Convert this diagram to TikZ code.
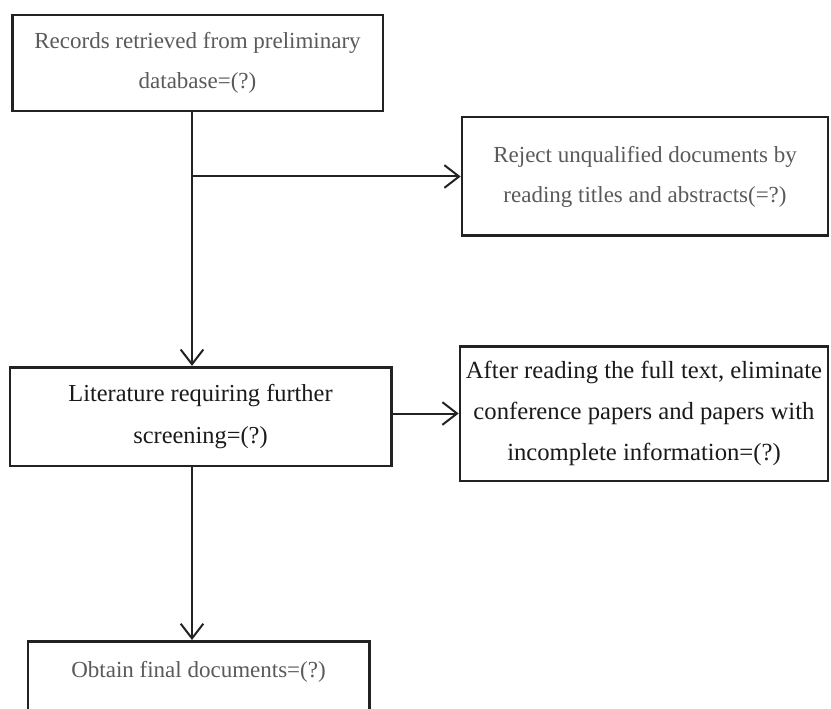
\documentclass[tikz,border=0pt]{standalone}
\usepackage{fontspec}
\setmainfont{Liberation Serif}
\usetikzlibrary{arrows.meta}
\definecolor{boxline}{HTML}{222222}
\definecolor{softtext}{HTML}{5A5A5A}
\definecolor{darktext}{HTML}{1A1A1A}

\begin{document}
\begin{tikzpicture}[x=0.75pt,y=-0.75pt,
    stepbox/.style={draw=boxline,line width=2pt,align=center,inner sep=0pt,font=\fontsize{17.25}{30}\selectfont},
    flow/.style={-{Straight Barb[length=11pt,width=17pt]},boxline,line width=1.5pt}]
  \clip (0,0) rectangle (831,709);
  \fill[white] (0,0) rectangle (831,709);
  % main column
  \node[stepbox,text=softtext,minimum width=278pt,minimum height=72pt] (records) at (197.5,63)
    {Records retrieved from preliminary\\database=(?)};
  \node[stepbox,text=darktext,minimum width=286pt,minimum height=74pt,font=\fontsize{18.3}{32}\selectfont] (screening) at (200.5,416.5)
    {Literature requiring further\\screening=(?)};
  \node[stepbox,text=softtext,minimum width=256pt,anchor=north,inner ysep=15pt] (final) at (198.5,640)
    {Obtain final documents=(?)\\ ~};
  % side boxes
  \node[stepbox,text=softtext,minimum width=274.5pt,minimum height=89pt] (reject) at (645,176.5)
    {Reject unqualified documents by\\reading titles and abstracts(=?)};
  \node[stepbox,text=darktext,minimum width=276pt,minimum height=101pt,font=\fontsize{18.5}{30.5}\selectfont] (eliminate) at (644,413.5)
    {After reading the full text, eliminate\\conference papers and papers with\\incomplete information=(?)};
  \coordinate (spine) at (192,0);
  \draw[flow] (spine |- records.south) -- (spine |- screening.north);
  \draw[flow] (spine |- reject.west) -- (reject.west);
  \draw[flow] (screening.east |- eliminate.west) -- (eliminate.west);
  \draw[flow] (spine |- screening.south) -- (spine |- final.north);
\end{tikzpicture}
\end{document}
